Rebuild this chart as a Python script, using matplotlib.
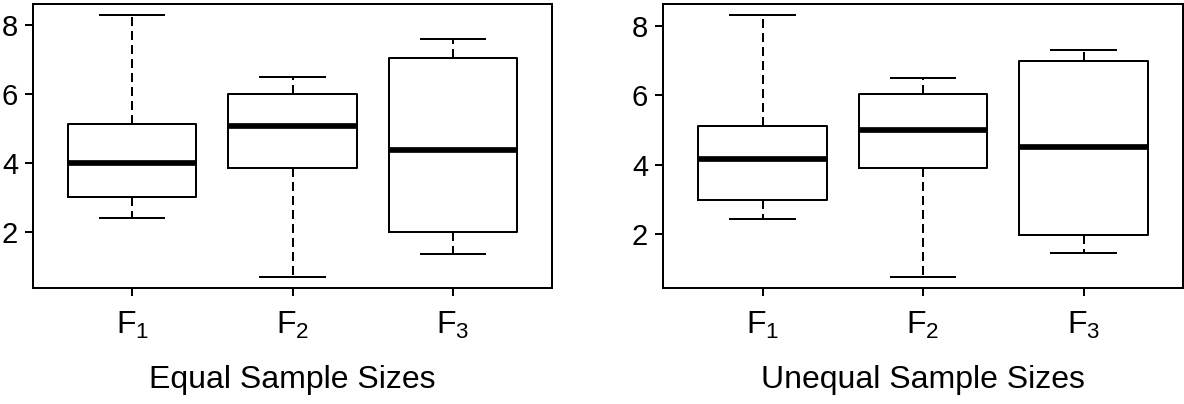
import matplotlib
matplotlib.use("Agg")
from matplotlib import pyplot as plt

plt.rcParams['font.family'] = ['Liberation Sans', 'DejaVu Sans']
plt.rcParams['mathtext.fontset'] = 'custom'
plt.rcParams['mathtext.rm'] = 'Liberation Sans'

groups = ['F$_1$', 'F$_2$', 'F$_3$']
titles = ['Equal Sample Sizes', 'Unequal Sample Sizes']

# five-number summaries: low whisker, Q1, median, Q3, high whisker
equal_lo = [2.39, 0.68, 1.36]
equal_q1 = [3.00, 3.86, 2.01]
equal_med = [4.00, 5.05, 4.36]
equal_q3 = [5.12, 6.00, 7.02]
equal_hi = [8.29, 6.47, 7.57]

unequal_lo = [2.44, 0.75, 1.47]
unequal_q1 = [2.99, 3.91, 1.97]
unequal_med = [4.17, 5.01, 4.52]
unequal_q3 = [5.12, 6.05, 6.99]
unequal_hi = [8.33, 6.50, 7.31]

panels = [
    (equal_lo, equal_q1, equal_med, equal_q3, equal_hi),
    (unequal_lo, unequal_q1, unequal_med, unequal_q3, unequal_hi),
]

fig = plt.figure(figsize=(11.84, 4.04), dpi=100)
axes_pos = [[0.0279, 0.2871, 0.4383, 0.703], [0.5600, 0.2871, 0.4392, 0.703]]

lw = 1.44
for pos, data, title in zip(axes_pos, panels, titles):
    ax = fig.add_axes(pos)
    lo, q1, med, q3, hi = data
    stats = []
    for i in range(len(groups)):
        stats.append({'whislo': lo[i], 'q1': q1[i], 'med': med[i],
                      'q3': q3[i], 'whishi': hi[i], 'fliers': []})
    ax.bxp(stats, positions=[1, 2, 3], widths=0.8, showfliers=False,
           boxprops=dict(color='black', linewidth=lw),
           medianprops=dict(color='black', linewidth=4.1, solid_capstyle='butt'),
           whiskerprops=dict(color='black', linewidth=lw, linestyle=(0, (4.5, 2.5))),
           capprops=dict(color='black', linewidth=lw),
           capwidths=0.4)

    # R style limits: 4% padding around the data range
    rng = max(hi) - min(lo)
    ax.set_ylim(min(lo) - 0.04 * rng, max(hi) + 0.04 * rng)
    ax.set_xlim(0.38, 3.62)

    ax.set_yticks([2, 4, 6, 8])
    ax.set_xticks([1, 2, 3])
    ax.set_xticklabels(groups, fontsize=23)
    ax.tick_params(axis='y', labelsize=21, length=5.8, width=lw, pad=5)
    ax.tick_params(axis='x', length=5.8, width=lw, pad=10)
    for s in ax.spines.values():
        s.set_linewidth(lw)
    ax.set_xlabel(title, fontsize=23, labelpad=17)

plt.savefig('out.png', dpi=100)
